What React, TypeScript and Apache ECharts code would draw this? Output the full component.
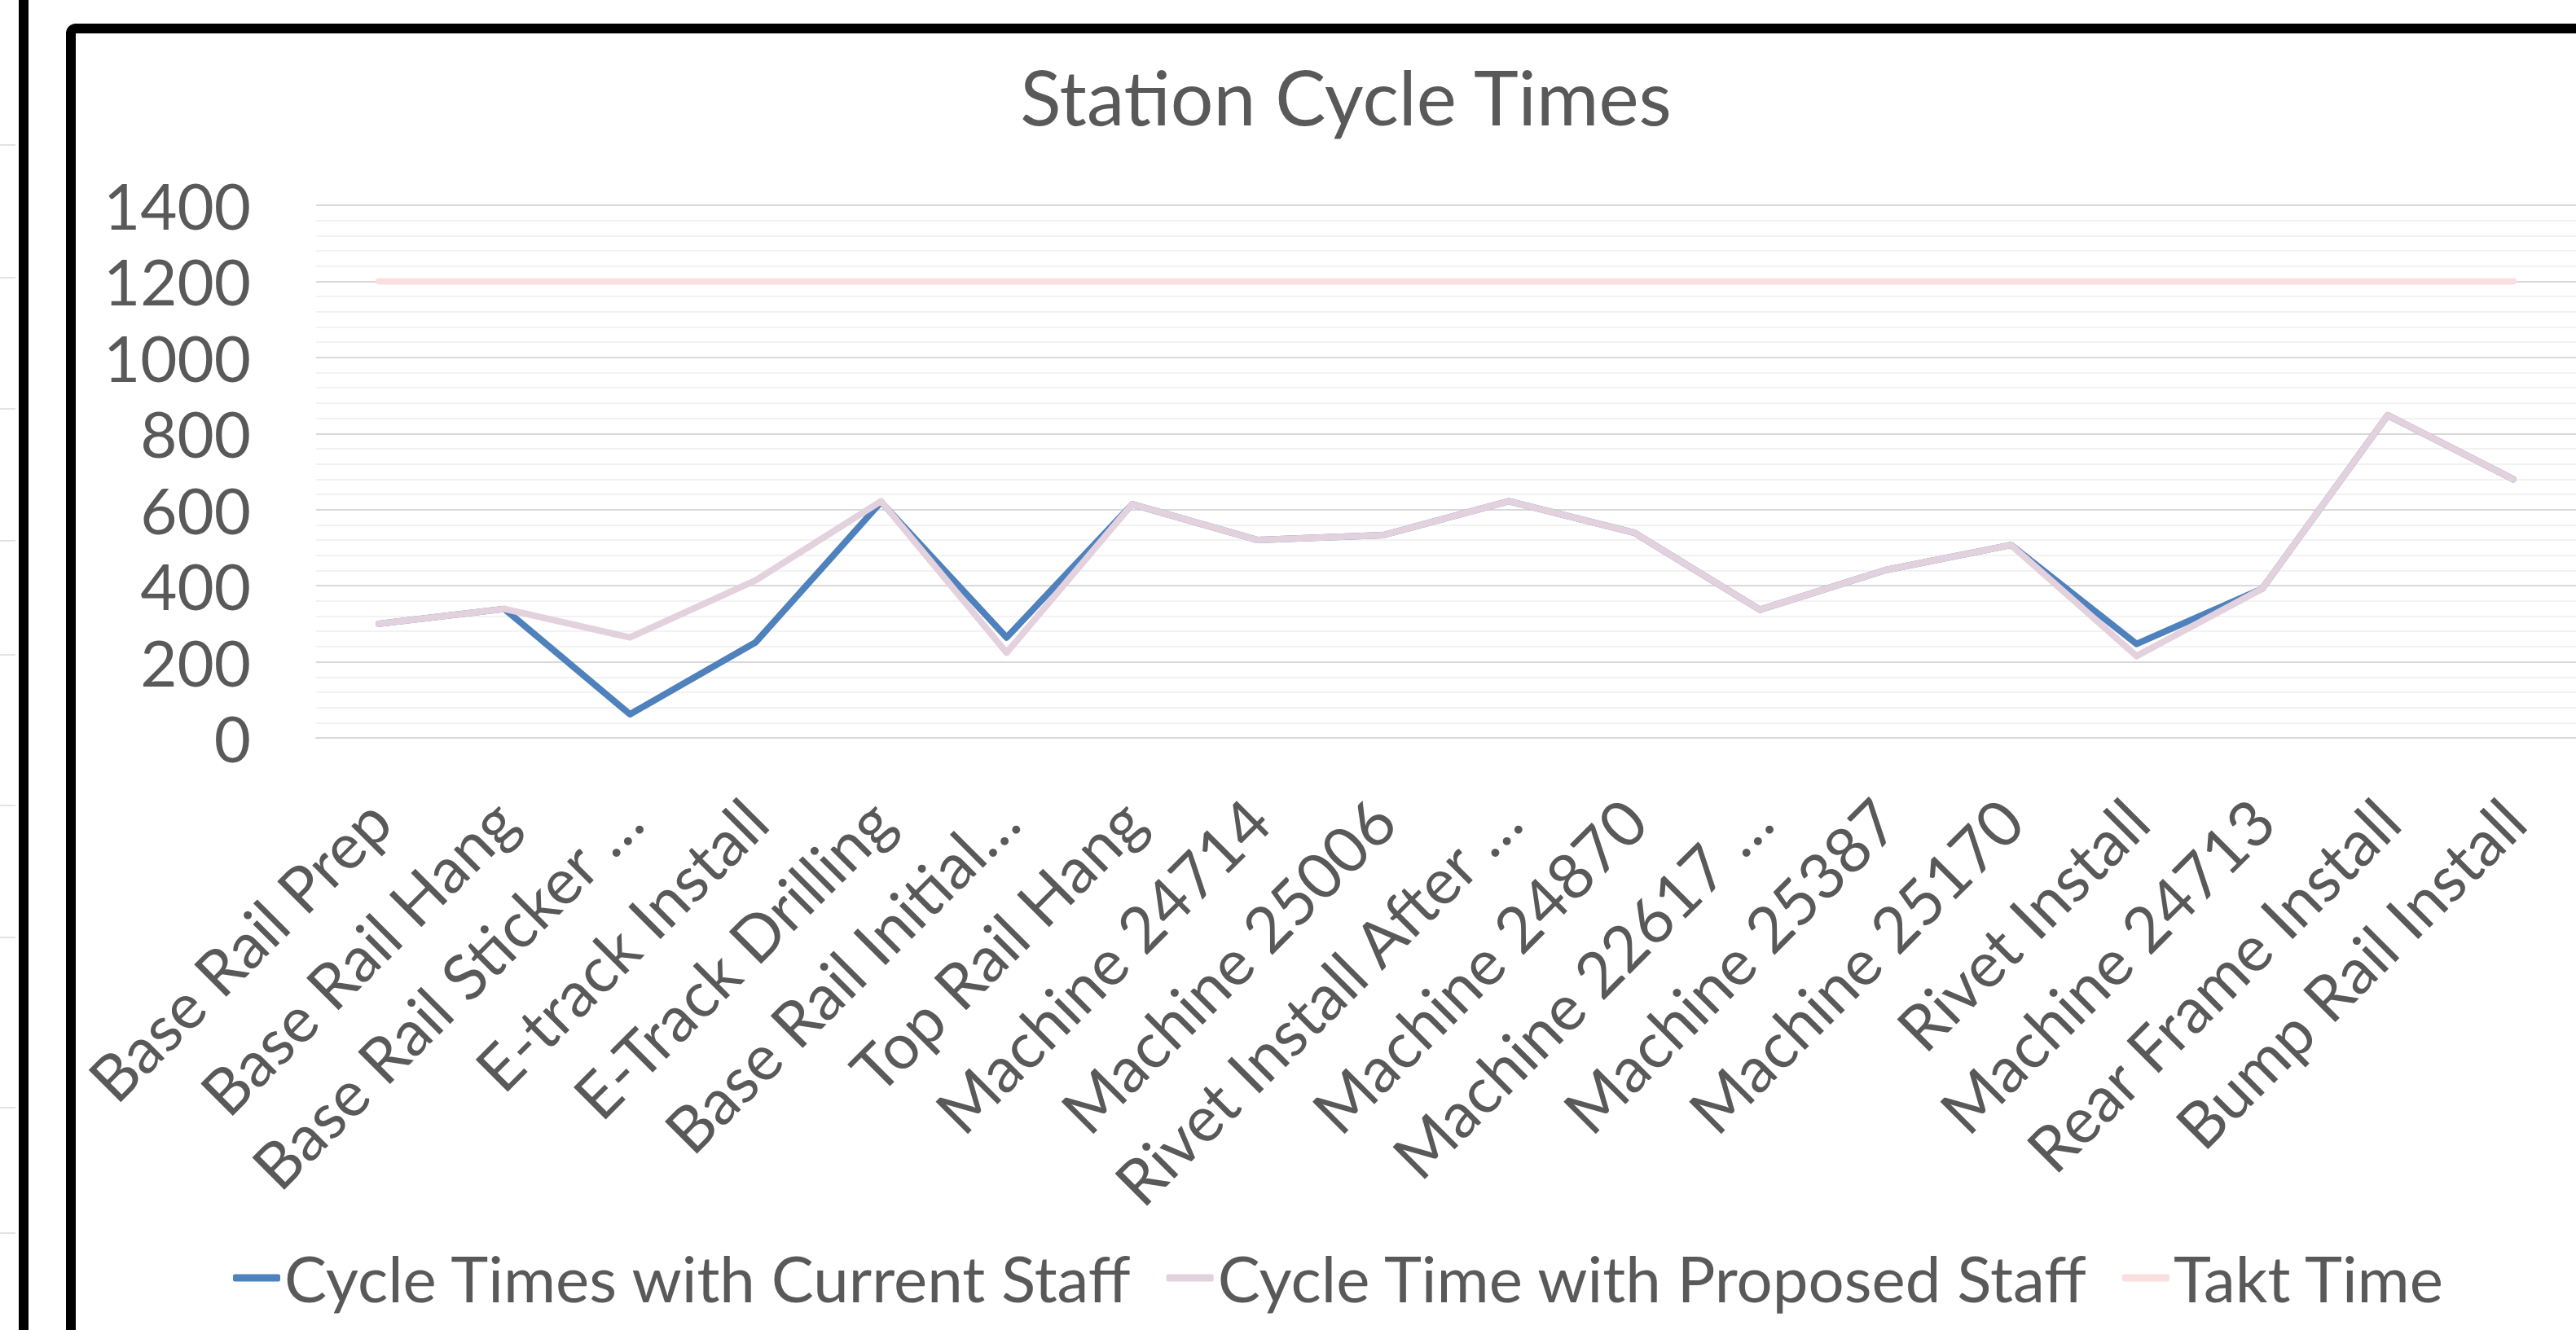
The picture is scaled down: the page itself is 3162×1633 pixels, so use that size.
import React, { useEffect, useRef } from "react";
import * as echarts from "echarts";

const categories = [
  "Base Rail Prep",
  "Base Rail Hang",
  "Base Rail Sticker …",
  "E-track Install",
  "E-Track Drilling",
  "Base Rail Initial…",
  "Top Rail Hang",
  "Machine 24714",
  "Machine 25006",
  "Rivet Install After …",
  "Machine 24870",
  "Machine 22617 …",
  "Machine 25387",
  "Machine 25170",
  "Rivet Install",
  "Machine 24713",
  "Rear Frame Install",
  "Bump Rail Install",
];

const currentStaff = [300, 339, 62, 251, 620, 264, 614, 520, 533, 622, 539, 337, 441, 507, 247, 392, 848, 680];
const proposedStaff = [300, 339, 264, 414, 622, 224, 614, 520, 533, 622, 539, 337, 441, 507, 215, 392, 848, 680];
const taktTime = [1200, 1200, 1200, 1200, 1200, 1200, 1200, 1200, 1200, 1200, 1200, 1200, 1200, 1200, 1200, 1200, 1200, 1200];

const seriesNames = ["Cycle Times with Current Staff", "Cycle Time with Proposed Staff", "Takt Time"];
const yTicks = { min: 0, max: 1400, interval: 200 };
const sheetRowLines = [178, 341, 502, 664, 804, 989, 1151, 1360, 1514];

const FONT = "Lato, 'Open Sans', sans-serif";
const TEXT = "#595959";

export default function App() {
  const ref = useRef<HTMLDivElement>(null);
  useEffect(() => {
    if (!ref.current) return;
    const chart = echarts.init(ref.current, undefined, { renderer: "svg" });
    const lineStyle = (color: string) => ({ color, width: 8, cap: "round", join: "round" });
    chart.setOption({
      animation: false,
      backgroundColor: "#ffffff",
      textStyle: { fontFamily: FONT },
      title: {
        text: "Station Cycle Times",
        left: 1647,
        textAlign: "center",
        top: 63,
        textStyle: { fontFamily: FONT, fontSize: 93, fontWeight: "normal", color: TEXT, lineHeight: 100 },
      },
      legend: {
        left: 281,
        top: 1519,
        itemWidth: 58,
        itemHeight: 9,
        itemGap: 40,
        icon: "roundRect",
        textStyle: { fontFamily: FONT, fontSize: 78, color: TEXT, lineHeight: 90 },
        data: seriesNames,
      },
      grid: { left: 388, right: -18, top: 252, bottom: 727, containLabel: false },
      xAxis: {
        type: "category",
        data: categories,
        boundaryGap: true,
        axisLine: { show: true, lineStyle: { color: "#D9D9D9", width: 2 } },
        axisTick: { show: false },
        axisLabel: {
          interval: 0,
          rotate: 45,
          margin: 88,
          fontFamily: FONT,
          fontSize: 78,
          color: TEXT,
        },
        splitLine: { show: false },
      },
      yAxis: {
        type: "value",
        min: yTicks.min,
        max: yTicks.max,
        interval: yTicks.interval,
        axisLine: { show: false },
        axisTick: { show: false },
        axisLabel: {
          margin: 80,
          fontFamily: FONT,
          fontSize: 78,
          color: TEXT,
          formatter: (v: number) => String(v),
        },
        splitLine: { show: true, lineStyle: { color: "#D9D9D9", width: 2 } },
        minorTick: { show: false, splitNumber: 5 },
        minorSplitLine: { show: true, lineStyle: { color: "#F2F2F2", width: 2 } },
      },
      series: [
        {
          name: seriesNames[0],
          type: "line",
          data: currentStaff,
          symbol: "none",
          color: "#4F81BD",
          lineStyle: lineStyle("#4F81BD"),
          z: 3,
        },
        {
          name: seriesNames[1],
          type: "line",
          data: proposedStaff,
          symbol: "none",
          color: "#E4D1DE",
          lineStyle: lineStyle("#E4D1DE"),
          z: 4,
        },
        {
          name: seriesNames[2],
          type: "line",
          data: taktTime,
          symbol: "none",
          color: "#FADFE0",
          lineStyle: lineStyle("#FADFE0"),
          z: 2,
        },
      ],
      graphic: [
        ...sheetRowLines.map((y) => ({
          type: "line",
          shape: { x1: 0, y1: y, x2: 19, y2: y },
          style: { stroke: "#E3E3E3", lineWidth: 2 },
          z: 100,
        })),
        {
          type: "rect",
          shape: { x: 23, y: 0, width: 12, height: 1633 },
          style: { fill: "#000000" },
          z: 100,
        },
        {
          type: "rect",
          shape: { x: 87, y: 35, width: 3300, height: 1800, r: 6 },
          style: { fill: "none", stroke: "#000000", lineWidth: 12 },
          z: 100,
        },
      ],
    });
    return () => chart.dispose();
  }, []);
  return (
    <div
      ref={ref}
      style={{ position: "fixed", left: 0, top: 0, width: 3162, height: 1633, overflow: "hidden" }}
    />
  );
}
